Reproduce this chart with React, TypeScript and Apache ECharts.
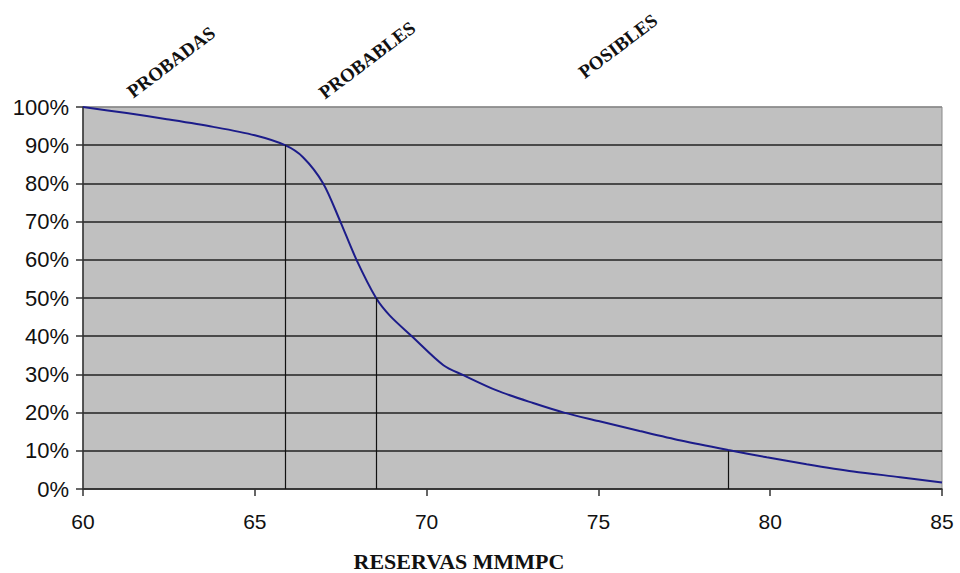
import React, { useEffect, useRef } from "react";
import * as echarts from "echarts";

// Curve: reserves (MMMPC) vs cumulative probability (%)
const reservesX = [60, 61.27, 62.44, 63.79, 65.0, 65.88, 66.41, 66.99, 67.48, 67.96, 68.53, 68.93, 69.57, 70.49, 71.07, 72.04, 73.1, 74.0, 75.0, 76.2, 77.4, 78.78, 79.9, 81.06, 82.42, 83.78, 85];
const probabilityY = [100, 98.4, 96.8, 94.8, 92.6, 90, 86.8, 80, 70.2, 60, 50, 45.4, 40, 32.4, 29.8, 25.8, 22.5, 20, 17.8, 15.2, 12.7, 10.2, 8.3, 6.5, 4.6, 3.1, 1.7];

// Drop lines (P90, P50, P10)
const dropX = [65.88, 68.53, 78.78];
const dropY = [90, 50, 10];

// Texts
const phaseLabels = ["PROBADAS", "PROBABLES", "POSIBLES"];
const axisTitle = "RESERVAS MMMPC";

export default function App() {
  const ref = useRef<HTMLDivElement>(null);
  useEffect(() => {
    if (!ref.current) return;
    const chart = echarts.init(ref.current, null, { renderer: "svg" });
    const lineData = reservesX.map((x, i) => [x, probabilityY[i]]);
    const drops = dropX.map((x, i) => [
      { coord: [x, 0] },
      { coord: [x, dropY[i]] },
    ]);
    const labelPos = [
      [171, 62],
      [367, 60],
      [618, 46],
    ];
    const splitColors = ["#222", "#222", "#222", "#222", "#222", "#222", "#222", "#222", "#222", "#222", "#8a8a8a"];
    chart.setOption({
      animation: false,
      backgroundColor: "#ffffff",
      grid: {
        left: 83,
        right: 18,
        top: 107,
        bottom: 84,
        show: true,
        backgroundColor: "#c0c0c0",
        borderColor: "#8a8a8a",
        borderWidth: 1,
      },
      xAxis: {
        type: "value",
        min: 60,
        max: 85,
        interval: 5,
        axisLine: { show: true, onZero: false, lineStyle: { color: "#333", width: 1.5 } },
        axisTick: { show: true, length: 7, lineStyle: { color: "#333", width: 1.5 } },
        axisLabel: {
          margin: 22,
          color: "#111",
          fontSize: 21,
          fontFamily: "Liberation Sans, Arial, sans-serif",
        },
        splitLine: { show: false },
      },
      yAxis: {
        type: "value",
        min: 0,
        max: 100,
        interval: 10,
        axisLine: { show: true, onZero: false, lineStyle: { color: "#333", width: 1.5 } },
        axisTick: { show: true, length: 7, lineStyle: { color: "#333", width: 1.5 } },
        axisLabel: {
          margin: 14,
          color: "#111",
          fontSize: 22,
          fontFamily: "Liberation Sans, Arial, sans-serif",
          formatter: "{value}%",
        },
        splitLine: { show: true, lineStyle: { color: splitColors, width: 1.5 } },
      },
      series: [
        {
          type: "line",
          data: lineData,
          showSymbol: false,
          smooth: 0.3,
          lineStyle: { color: "#1c1c8a", width: 2 },
          z: 3,
          markLine: {
            silent: true,
            symbol: ["none", "none"],
            label: { show: false },
            lineStyle: { color: "#111", width: 1.2, type: "solid" },
            data: drops,
          },
        },
      ],
      graphic: [
        ...phaseLabels.map((t, i) => ({
          type: "text",
          x: labelPos[i][0],
          y: labelPos[i][1],
          rotation: (37 * Math.PI) / 180,
          style: {
            text: t,
            fill: "#111",
            font: "bold 19px 'Liberation Serif', 'Times New Roman', serif",
            textAlign: "center",
            textVerticalAlign: "middle",
          },
        })),
        {
          type: "text",
          x: 459,
          y: 561,
          style: {
            text: axisTitle,
            fill: "#111",
            font: "bold 22px 'Liberation Serif', 'Times New Roman', serif",
            textAlign: "center",
            textVerticalAlign: "middle",
          },
        },
      ],
    });
    return () => chart.dispose();
  }, []);
  return (
    <div
      ref={ref}
      style={{ position: "fixed", left: 0, top: 0, width: 960, height: 573 }}
    />
  );
}
